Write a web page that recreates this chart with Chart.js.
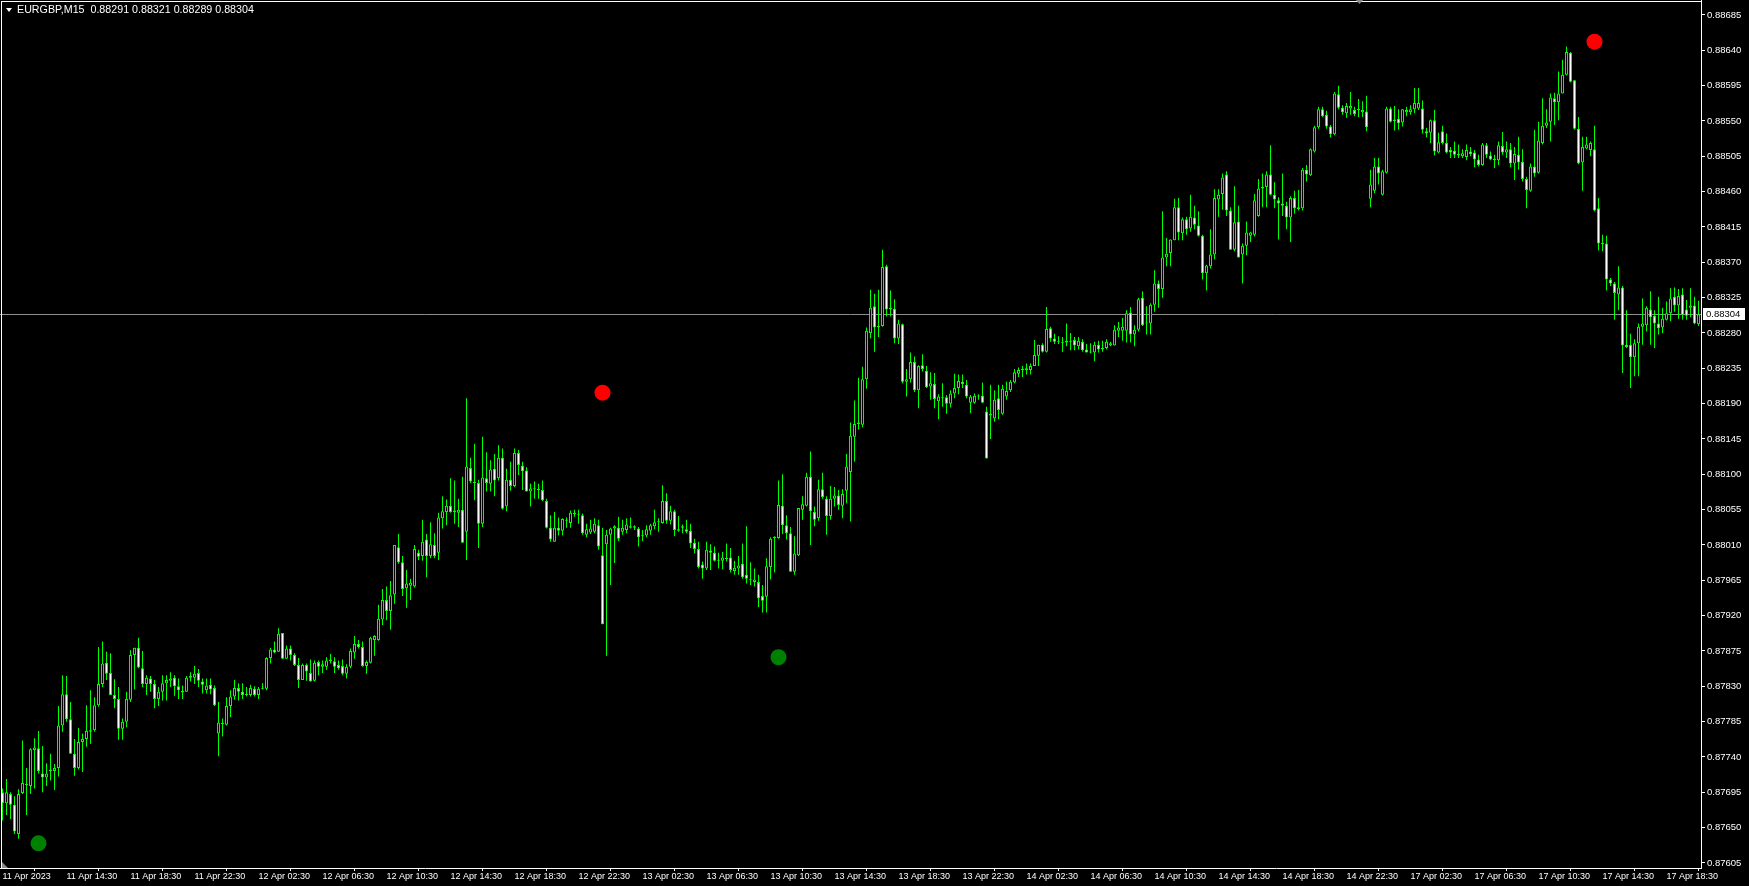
<!DOCTYPE html>
<html>
<head>
<meta charset="utf-8">
<title>EURGBP,M15</title>
<script src="https://cdn.jsdelivr.net/npm/chart.js@4.4.1/dist/chart.umd.min.js"></script>
<style>
  html, body { margin: 0; padding: 0; background: #000; overflow: hidden; }
  #wrap { position: relative; width: 1749px; height: 886px; }
  #title {
    position: absolute; left: 6px; top: 3px; color: #fff;
    font: 10.7px "Liberation Sans", Arial, sans-serif; white-space: pre;
  }
  #title .tri {
    display: inline-block; width: 0; height: 0; vertical-align: 1px; margin-right: 5px;
    border-left: 3px solid transparent; border-right: 3px solid transparent; border-top: 4px solid #fff;
  }
</style>
</head>
<body>
<div id="wrap">
  <canvas id="chart" width="1749" height="886"></canvas>
  <div id="title"><span class="tri"></span>EURGBP,M15  0.88291 0.88321 0.88289 0.88304</div>
</div>
<script>
// EURGBP M15, prices in points (1 point = 0.00001), one entry per bar, from 11 Apr 10:30
const opens = [
  87695,87681,87693,87679,87642,87694,87706,87703,87749,87751,87719,87714,87722,87722,87726,87780,87820,87788,87744,87726,
  87759,87763,87772,87774,87806,87833,87860,87847,87819,87814,87776,87785,87813,87870,87879,87853,87833,87840,87833,87814,
  87823,87834,87837,87841,87830,87824,87823,87841,87841,87847,87836,87825,87832,87828,87770,87783,87781,87805,87817,87828,
  87823,87819,87819,87827,87819,87827,87827,87866,87877,87874,87898,87865,87878,87870,87857,87838,87857,87847,87837,87861,
  87855,87855,87862,87862,87857,87856,87846,87855,87873,87884,87880,87856,87860,87889,87889,87915,87940,87926,87947,88007,
  87988,87955,87958,87957,88000,87996,88017,87996,88010,88000,88044,88052,88060,88054,88051,88055,88027,88108,88090,88089,
  88037,88095,88088,88107,88095,88121,88059,88093,88085,88127,88111,88105,88078,88082,88081,88080,88066,88032,88014,88032,
  88028,88041,88038,88051,88048,88048,88023,88026,88027,88035,87997,88011,88023,88031,88032,88027,88029,88032,88034,88031,
  88021,88022,88028,88034,88039,88038,88066,88041,88053,88030,88032,88030,88028,88013,88005,87985,87980,88003,88000,87990,
  87990,87993,87994,87977,87980,87986,87972,87965,87963,87963,87945,87944,87982,88019,88019,88060,88035,88025,87976,87997,
  88055,88060,88097,88052,88044,88081,88069,88047,88069,88073,88060,88079,88103,88148,88164,88163,88221,88280,88314,88287,
  88289,88365,88312,88311,88273,88291,88218,88221,88243,88207,88239,88232,88212,88215,88193,88197,88198,88190,88203,88210,
  88218,88214,88191,88191,88199,88200,88180,88177,88171,88197,88177,88199,88207,88217,88228,88233,88233,88233,88238,88251,
  88265,88256,88286,88273,88270,88268,88268,88269,88271,88263,88269,88259,88256,88255,88265,88259,88261,88264,88264,88283,
  88283,88283,88306,88278,88284,88325,88292,88292,88316,88343,88336,88376,88382,88398,88440,88407,88425,88413,88427,88417,
  88404,88356,88365,88380,88450,88457,88482,88436,88386,88422,88380,88391,88404,88405,88429,88464,88466,88482,88456,88449,
  88445,88442,88427,88452,88440,88439,88488,88481,88511,88542,88565,88558,88543,88533,88584,88567,88560,88566,88564,88564,
  88561,88562,88451,88461,88492,88456,88484,88566,88552,88553,88548,88561,88561,88565,88566,88566,88537,88535,88551,88510,
  88537,88522,88513,88512,88508,88505,88504,88511,88510,88501,88494,88519,88506,88502,88500,88518,88510,88514,88496,88507,
  88498,88476,88461,88492,88484,88522,88544,88549,88579,88574,88585,88609,88637,88602,88540,88497,88515,88513,88514,88439,
  88393,88394,88348,88343,88329,88338,88265,88265,88249,88267,88288,88290,88310,88302,88292,88287,88297,88305,88326,88315,
  88329,88310,88312,88315,88291
];
const highs = [
  87700,87712,87695,87690,87699,87761,87726,87751,87764,87773,87754,87732,87744,87731,87805,87844,87843,87810,87763,87777,
  87770,87806,87825,87816,87880,87887,87874,87872,87839,87829,87789,87823,87876,87879,87892,87875,87844,87843,87838,87829,
  87844,87844,87848,87844,87840,87831,87843,87848,87856,87852,87840,87840,87840,87831,87810,87789,87816,87825,87838,87834,
  87834,87829,87832,87830,87829,87834,87867,87879,87887,87904,87898,87882,87882,87872,87866,87859,87859,87864,87863,87863,
  87863,87867,87871,87867,87863,87864,87858,87878,87894,87889,87887,87863,87893,87895,87934,87954,87957,87964,88010,88024,
  87996,87978,87967,88010,88004,88042,88024,88039,88025,88051,88072,88068,88095,88092,88069,88097,88197,88121,88139,88093,
  88148,88128,88118,88126,88137,88133,88107,88116,88133,88131,88116,88109,88088,88091,88088,88092,88069,88048,88052,88045,
  88044,88045,88054,88055,88055,88050,88037,88042,88044,88042,88032,88029,88032,88035,88046,88042,88044,88045,88035,88033,
  88029,88035,88037,88055,88044,88086,88076,88060,88055,88047,88036,88042,88037,88018,88014,87989,88014,88011,88008,88000,
  88001,88012,88006,87990,87996,88012,88034,87988,87980,87972,87959,87993,88020,88021,88092,88100,88048,88033,88021,88057,
  88072,88102,88129,88059,88093,88102,88072,88085,88084,88080,88081,88126,88166,88194,88223,88237,88287,88335,88330,88335,
  88386,88367,88334,88323,88297,88292,88234,88255,88250,88239,88253,88238,88230,88229,88202,88216,88201,88207,88228,88227,
  88227,88220,88201,88203,88202,88217,88186,88214,88207,88214,88214,88218,88220,88234,88236,88238,88241,88241,88271,88265,
  88267,88313,88288,88279,88276,88275,88292,88280,88275,88275,88272,88266,88267,88269,88270,88270,88272,88269,88290,88294,
  88299,88309,88313,88290,88325,88333,88314,88318,88360,88347,88435,88401,88399,88451,88452,88427,88428,88456,88442,88435,
  88405,88367,88412,88463,88463,88483,88486,88440,88467,88442,88394,88422,88409,88457,88476,88483,88486,88519,88472,88453,
  88483,88447,88454,88461,88462,88490,88494,88515,88544,88568,88568,88563,88545,88587,88595,88570,88573,88587,88568,88578,
  88575,88582,88488,88503,88503,88488,88568,88568,88569,88565,88565,88568,88570,88592,88592,88576,88541,88552,88564,88535,
  88544,88534,88517,88524,88520,88514,88520,88517,88513,88507,88522,88522,88511,88507,88524,88536,88524,88522,88517,88530,
  88514,88479,88496,88539,88549,88579,88565,88585,88586,88613,88628,88645,88638,88602,88555,88530,88530,88524,88544,88452,
  88405,88404,88350,88345,88365,88340,88309,88279,88272,88292,88324,88314,88333,88309,88326,88312,88320,88337,88338,88336,
  88337,88322,88337,88326,88321
];
const lows = [
  87659,87666,87661,87642,87636,87693,87666,87693,87700,87719,87695,87703,87710,87698,87715,87772,87785,87744,87716,87724,
  87721,87753,87757,87772,87804,87829,87838,87819,87802,87762,87762,87778,87810,87826,87853,87829,87819,87823,87802,87805,
  87812,87812,87829,87818,87814,87814,87823,87836,87833,87829,87821,87821,87820,87805,87741,87766,87780,87791,87813,87812,
  87814,87817,87817,87817,87814,87826,87825,87859,87872,87874,87865,87865,87863,87856,87828,87838,87837,87836,87836,87844,
  87847,87851,87859,87847,87851,87844,87840,87853,87865,87878,87855,87846,87859,87869,87888,87908,87914,87902,87935,87986,
  87945,87930,87940,87956,87991,87990,87969,87993,87993,87991,88031,88035,88051,88037,88033,88013,87991,88089,88067,88006,
  88033,88078,88078,88072,88092,88055,88053,88079,88084,88099,88080,88078,88059,88069,88069,88066,88031,88014,88014,88022,
  88022,88032,88032,88046,88037,88023,88020,88024,88025,88004,87909,87869,87959,87987,88015,88023,88025,88031,88029,88008,
  88015,88020,88023,88030,88027,88037,88037,88036,88021,88027,88025,88025,88006,87999,87980,87967,87978,87978,87989,87980,
  87979,87989,87975,87972,87972,87967,87961,87959,87957,87931,87924,87924,87966,87975,88018,88024,88017,87976,87972,87996,
  88042,88059,88010,88034,88041,88069,88023,88042,88059,88055,88044,88063,88040,88116,88157,88160,88209,88273,88256,88275,
  88288,88301,88301,88267,88266,88216,88199,88217,88205,88184,88231,88210,88195,88184,88170,88186,88177,88185,88197,88202,
  88210,88197,88178,88190,88195,88191,88120,88145,88167,88170,88176,88195,88205,88216,88224,88224,88227,88227,88238,88238,
  88255,88255,88269,88266,88266,88256,88263,88258,88258,88259,88256,88255,88254,88244,88255,88256,88259,88263,88264,88275,
  88270,88268,88268,88263,88282,88289,88278,88278,88307,88312,88325,88365,88365,88398,88398,88398,88405,88409,88412,88403,
  88348,88334,88362,88374,88428,88437,88429,88386,88384,88376,88343,88379,88396,88403,88428,88440,88440,88455,88439,88399,
  88429,88412,88396,88432,88436,88436,88473,88480,88510,88540,88555,88540,88529,88532,88565,88558,88554,88558,88556,88555,
  88555,88537,88440,88458,88469,88455,88483,88548,88538,88539,88543,88556,88558,88560,88564,88534,88529,88522,88506,88509,
  88520,88509,88503,88503,88503,88503,88500,88505,88491,88492,88493,88503,88500,88490,88494,88507,88503,88491,88475,88488,
  88473,88439,88460,88479,88483,88520,88541,88524,88545,88551,88585,88608,88599,88539,88495,88461,88514,88505,88435,88385,
  88384,88334,88340,88297,88309,88229,88261,88210,88225,88225,88265,88282,88265,88261,88278,88280,88296,88295,88307,88298,
  88297,88297,88300,88291,88289
];
const closes = [
  87681,87695,87679,87645,87693,87707,87704,87750,87752,87722,87714,87719,87724,87726,87780,87820,87788,87744,87726,87759,
  87763,87773,87774,87806,87833,87859,87846,87819,87814,87776,87785,87814,87870,87879,87854,87833,87841,87833,87814,87823,
  87834,87838,87840,87830,87825,87822,87841,87843,87846,87837,87832,87831,87826,87806,87784,87782,87805,87817,87828,87823,
  87819,87819,87828,87819,87827,87828,87866,87877,87873,87897,87865,87878,87870,87857,87838,87857,87849,87836,87860,87855,
  87858,87863,87864,87855,87853,87846,87855,87875,87884,87880,87856,87861,87892,87894,87916,87940,87926,87946,88010,87988,
  87954,87961,87962,88005,87995,88014,87996,88011,87996,88045,88053,88060,88052,88052,88055,88013,88110,88091,88089,88037,
  88096,88089,88106,88092,88121,88056,88093,88085,88127,88112,88104,88078,88082,88081,88080,88067,88032,88017,88032,88028,
  88043,88041,88051,88049,88048,88025,88030,88031,88037,88008,87909,88023,88031,88034,88018,88032,88036,88034,88032,88020,
  88022,88030,88035,88039,88040,88066,88041,88053,88029,88028,88034,88027,88012,88005,87982,87980,88004,88000,87990,87990,
  87994,87992,87978,87981,87984,87969,87967,87965,87966,87942,87939,87983,88018,88020,88061,88035,88025,87976,87999,88057,
  88062,88097,88053,88042,88081,88071,88047,88069,88073,88061,88075,88110,88149,88164,88166,88221,88283,88312,88287,88289,
  88364,88310,88310,88273,88292,88218,88221,88243,88207,88238,88234,88211,88216,88196,88199,88197,88190,88203,88210,88219,
  88215,88199,88199,88200,88200,88191,88120,88175,88195,88182,88209,88206,88218,88230,88233,88233,88235,88238,88252,88265,
  88256,88285,88273,88269,88269,88267,88270,88269,88264,88270,88258,88255,88255,88265,88259,88261,88269,88267,88284,88287,
  88288,88305,88278,88284,88323,88290,88292,88316,88343,88336,88376,88381,88399,88440,88408,88425,88412,88428,88418,88404,
  88356,88366,88380,88452,88456,88478,88436,88386,88421,88376,88391,88408,88408,88449,88464,88466,88482,88456,88450,88445,
  88442,88427,88452,88439,88438,88488,88482,88514,88542,88565,88556,88543,88533,88585,88567,88561,88569,88569,88559,88564,
  88564,88542,88469,88492,88483,88486,88566,88549,88550,88547,88565,88564,88565,88573,88573,88539,88534,88551,88511,88523,
  88522,88510,88510,88507,88506,88509,88513,88508,88501,88494,88520,88507,88501,88500,88519,88510,88514,88496,88508,88497,
  88476,88462,88492,88483,88525,88544,88548,88580,88574,88585,88609,88638,88600,88540,88496,88517,88520,88522,88436,88394,
  88395,88348,88343,88331,88338,88264,88262,88249,88267,88288,88292,88312,88300,88292,88286,88298,88305,88324,88315,88327,
  88303,88302,88315,88292,88304
];

// indicator dots: bar index and price
const sellBars = [150, 398];
const sellPrices = [88204, 88651];
const buyBars = [9, 194];
const buyPrices = [87630, 87867];

// time axis labels and the bar each one sits on
const timeLabels = [
  "11 Apr 2023", "11 Apr 14:30", "11 Apr 18:30", "11 Apr 22:30", "12 Apr 02:30", "12 Apr 06:30",
  "12 Apr 10:30", "12 Apr 14:30", "12 Apr 18:30", "12 Apr 22:30", "13 Apr 02:30", "13 Apr 06:30",
  "13 Apr 10:30", "13 Apr 14:30", "13 Apr 18:30", "13 Apr 22:30", "14 Apr 02:30", "14 Apr 06:30",
  "14 Apr 10:30", "14 Apr 14:30", "14 Apr 18:30", "14 Apr 22:30", "17 Apr 02:30", "17 Apr 06:30",
  "17 Apr 10:30", "17 Apr 14:30", "17 Apr 18:30"
];
const timeLabelBars = [0, 16, 32, 48, 64, 80, 96, 112, 128, 144, 160, 176, 192, 208, 224, 240, 256, 272,
  288, 304, 320, 336, 352, 368, 384, 400, 416];

// price axis ticks (points)
const priceTicks = [87605, 87650, 87695, 87740, 87785, 87830, 87875, 87920, 87965, 88010, 88055, 88100,
  88145, 88190, 88235, 88280, 88325, 88370, 88415, 88460, 88505, 88550, 88595, 88640, 88685];

const bidPrice = closes[closes.length - 1];

const LIME = "#00ff00";
const FONT = "'Liberation Sans', Arial, sans-serif";

const bars = opens.map((_, i) => i);
const wickData = bars.map((i) => ({ x: i, y: [lows[i], highs[i]] }));
const bodyData = bars.map((i) => ({ x: i, y: [Math.min(opens[i], closes[i]), Math.max(opens[i], closes[i])] }));
const bodyFill = bars.map((i) => (closes[i] < opens[i] ? "#ffffff" : "#000000"));

// frame, bid line and its price box
const mtChrome = {
  id: "mtChrome",
  beforeDatasetsDraw(chart) {
    const { ctx, chartArea } = chart;
    const y = Math.round(chart.scales.y.getPixelForValue(bidPrice)) + 0.5;
    ctx.save();
    ctx.strokeStyle = "#8f8f8f";
    ctx.lineWidth = 1;
    ctx.beginPath();
    ctx.moveTo(chartArea.left, y);
    ctx.lineTo(chartArea.right, y);
    ctx.stroke();
    ctx.restore();
  },
  afterDraw(chart) {
    const { ctx, chartArea } = chart;
    ctx.save();
    ctx.fillStyle = "#ffffff";
    ctx.fillRect(1, 1, chartArea.right - 1, 1);
    ctx.fillRect(1, 1, 1, chartArea.bottom - 1);

    const y = Math.round(chart.scales.y.getPixelForValue(bidPrice));
    ctx.fillRect(chartArea.right + 2, y - 6, 42, 12);
    ctx.fillStyle = "#000000";
    ctx.font = "9.5px " + FONT;
    ctx.textBaseline = "middle";
    ctx.fillText((bidPrice / 100000).toFixed(5), chartArea.right + 5, y + 0.5);

    ctx.fillStyle = "#8a8a8a";
    ctx.beginPath();
    ctx.moveTo(1356, 0);
    ctx.lineTo(1363, 0);
    ctx.lineTo(1359.5, 4);
    ctx.fill();
    ctx.beginPath();
    ctx.moveTo(2, chartArea.bottom - 6);
    ctx.lineTo(2, chartArea.bottom);
    ctx.lineTo(8, chartArea.bottom);
    ctx.fill();
    ctx.restore();
  }
};

new Chart(document.getElementById("chart"), {
  type: "bar",
  data: {
    datasets: [
      {
        type: "scatter",
        label: "sell",
        data: sellBars.map((b, i) => ({ x: b, y: sellPrices[i] })),
        backgroundColor: "#ff0000",
        borderWidth: 0,
        pointRadius: 8,
        order: 0
      },
      {
        type: "scatter",
        label: "buy",
        data: buyBars.map((b, i) => ({ x: b, y: buyPrices[i] })),
        backgroundColor: "#008000",
        borderWidth: 0,
        pointRadius: 8,
        order: 0
      },
      {
        label: "body",
        data: bodyData,
        backgroundColor: bodyFill,
        borderColor: LIME,
        borderWidth: 1,
        borderSkipped: false,
        barThickness: 3,
        minBarLength: 1,
        inflateAmount: 0,
        grouped: false,
        order: 1
      },
      {
        label: "wick",
        data: wickData,
        backgroundColor: LIME,
        borderWidth: 0,
        barThickness: 1,
        inflateAmount: 0,
        grouped: false,
        order: 2
      }
    ]
  },
  options: {
    responsive: false,
    devicePixelRatio: 1,
    animation: false,
    events: [],
    layout: { padding: 0, autoPadding: false },
    plugins: {
      legend: { display: false },
      tooltip: { enabled: false }
    },
    scales: {
      x: {
        type: "linear",
        min: -0.625,
        max: 424.625,
        offset: false,
        afterBuildTicks: (s) => { s.ticks = timeLabelBars.map((v) => ({ value: v })); },
        afterFit: (s) => { s.height = 18; s.paddingLeft = 0; s.paddingRight = 0; },
        ticks: {
          color: "#ffffff",
          font: { family: FONT, size: 9 },
          align: "start",
          padding: 0,
          autoSkip: false,
          maxRotation: 0,
          minRotation: 0,
          callback: (v, idx) => timeLabels[idx]
        },
        grid: { drawOnChartArea: false, drawTicks: true, tickLength: 3, color: "#ffffff" },
        border: { display: true, color: "#ffffff", width: 1 }
      },
      y: {
        type: "linear",
        position: "right",
        min: 87598.6,
        max: 88704.1,
        afterBuildTicks: (s) => { s.ticks = priceTicks.map((v) => ({ value: v })); },
        afterFit: (s) => { s.width = 48; s.paddingTop = 0; s.paddingBottom = 0; },
        ticks: {
          color: "#ffffff",
          font: { family: FONT, size: 9.5 },
          padding: 2,
          callback: (v) => (v / 100000).toFixed(5)
        },
        grid: { drawOnChartArea: false, drawTicks: true, tickLength: 4, color: "#ffffff" },
        border: { display: true, color: "#ffffff", width: 1 }
      }
    }
  },
  plugins: [mtChrome]
});
</script>
</body>
</html>
